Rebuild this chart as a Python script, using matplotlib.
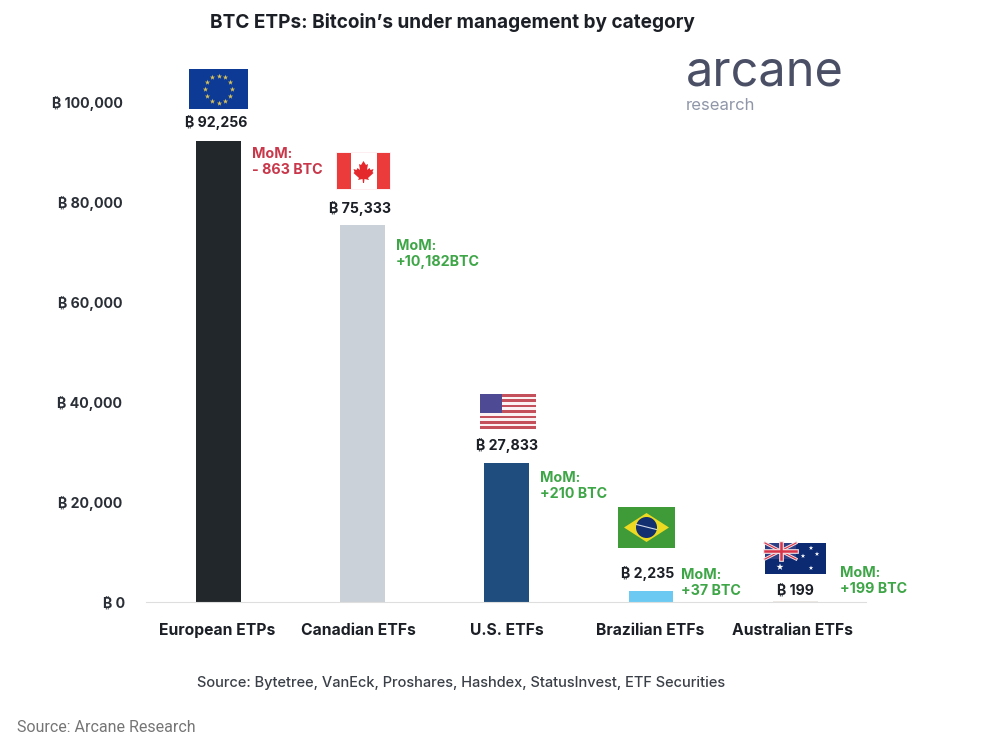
import numpy as np
import matplotlib
matplotlib.use('Agg')
import matplotlib.pyplot as plt
from matplotlib.patches import Rectangle, Polygon, Circle
from matplotlib.transforms import ScaledTranslation

plt.rcParams['font.family'] = ['Inter', 'DejaVu Sans']

# Data
categories = ['European ETPs', 'Canadian ETFs', 'U.S. ETFs', 'Brazilian ETFs', 'Australian ETFs']
holdings = [92256, 75333, 27833, 2235, 199]
value_labels = ['₿ 92,256', '₿ 75,333', '₿ 27,833', '₿ 2,235', '₿ 199']
mom_labels = ['MoM:\n- 863 BTC', 'MoM:\n+10,182BTC', 'MoM:\n+210 BTC', 'MoM:\n+37 BTC', 'MoM:\n+199 BTC']
yticks = [0, 20000, 40000, 60000, 80000, 100000]
ytick_labels = ['₿ 0', '₿ 20,000', '₿ 40,000', '₿ 60,000', '₿ 80,000', '₿ 100,000']

BAR_COLORS = ['#22272c', '#cbd1d8', '#1f4e7e', '#6ccaf2', '#ece8e4']
MOM_COLORS = ['#c9374a', '#3fa648', '#3fa648', '#3fa648', '#3fa648']
MOM_POS = [(252, 162), (396, 254), (540, 486), (681, 583), (840, 581)]
VALUE_OFFSET = [18, 17, 17, 17, 11]
VALUE_SHIFT = [-2, -2, 0, -3, 0]
LABEL_SHIFT = [-1, -4, 0, -1, -3]
W, H = 1007, 743


def eu_flag(ov, x, y, w, h):
    ov.add_patch(Rectangle((x, y), w, h, color='#0d3a94', lw=0))
    ang = np.deg2rad(np.arange(0, 360, 30))
    ov.scatter(x + w / 2 + 13.5 * np.cos(ang), y + h / 2 + 13.5 * np.sin(ang),
               s=16, marker='*', color='#d8c25a', lw=0, zorder=3)


def canada_flag(ov, x, y, w, h):
    ov.add_patch(Rectangle((x - 1, y - 1), w + 2, h + 2, color='#fdeff1', lw=0))
    ov.add_patch(Rectangle((x, y), w, h, color='#ffffff', lw=0))
    ov.add_patch(Rectangle((x, y), 13.5, h, color='#ec3b3b', lw=0))
    ov.add_patch(Rectangle((x + w - 13.5, y), 13.5, h, color='#ec3b3b', lw=0))
    cx, cy = x + w / 2, y + h / 2
    leaf = [(0, -10), (2.5, -6), (4.5, -7), (3.5, -1), (6, -3), (7, -1), (10, -2), (9, 1), (10, 2),
            (4.5, 7), (5.5, 9), (1, 8), (0.5, 12), (-0.5, 12), (-1, 8), (-5.5, 9), (-4.5, 7),
            (-10, 2), (-9, 1), (-10, -2), (-7, -1), (-6, -3), (-3.5, -1), (-4.5, -7), (-2.5, -6)]
    ov.add_patch(Polygon([(cx + a, cy + b) for a, b in leaf], color='#e5282c', lw=0, zorder=3))


def us_flag(ov, x, y, w, h):
    ov.add_patch(Rectangle((x, y), w, h, color='#fbf3f3', lw=0))
    sh = h / 13
    for i in range(0, 13, 2):
        ov.add_patch(Rectangle((x, y + i * sh), w, sh, color='#c4505c', lw=0))
    ov.add_patch(Rectangle((x, y), w * 0.4, sh * 7, color='#4f4a94', lw=0, zorder=3))


def brazil_flag(ov, x, y, w, h):
    ov.add_patch(Rectangle((x, y), w, h, color='#3f9a38', lw=0))
    ov.add_patch(Polygon([(x + 6, y + h / 2), (x + w / 2, y + 6), (x + w - 6, y + h / 2), (x + w / 2, y + h - 6)],
                         color='#ecd922', lw=0, zorder=2))
    ov.add_patch(Circle((x + w / 2, y + h / 2), 10.5, color='#12306f', lw=0, zorder=3))
    ov.plot([x + w / 2 - 10, x + w / 2 + 10], [y + h / 2 - 3, y + h / 2 + 2], color='#cfd8e6', lw=0.8, zorder=4)


def australia_flag(ov, x, y, w, h):
    ov.add_patch(Rectangle((x, y), w, h, color='#0c2a72', lw=0))
    cw, ch = 31, 16
    ov.add_patch(Rectangle((x, y), cw, ch, color='#2f3f85', lw=0, zorder=2))
    ov.plot([x, x + cw], [y, y + ch], color='#f4e4e6', lw=2.2, zorder=3)
    ov.plot([x, x + cw], [y + ch, y], color='#f4e4e6', lw=2.2, zorder=3)
    ov.plot([x, x + cw], [y, y + ch], color='#d8344a', lw=0.8, zorder=3)
    ov.plot([x, x + cw], [y + ch, y], color='#d8344a', lw=0.8, zorder=3)
    ov.plot([x + cw / 2] * 2, [y, y + ch], color='#f4e4e6', lw=3.4, zorder=4)
    ov.plot([x, x + cw], [y + ch / 2] * 2, color='#f4e4e6', lw=3.4, zorder=4)
    ov.plot([x + cw / 2] * 2, [y, y + ch], color='#d8344a', lw=1.8, zorder=5)
    ov.plot([x, x + cw], [y + ch / 2] * 2, color='#d8344a', lw=1.8, zorder=5)
    ov.scatter([x + 15, x + 38, x + 46, x + 52, x + 46], [y + 24, y + 13, y + 5, y + 11, y + 25],
               s=[28, 12, 12, 12, 12], marker='*', color='white', lw=0, zorder=5)


fig = plt.figure(figsize=(W / 100, H / 100), dpi=100)
ax = fig.add_axes([146 / W, (H - 602) / H, 720 / W, 552 / H])

x = np.arange(len(categories))
bars = ax.bar(x, holdings, width=45 / 144.4, color=BAR_COLORS)
ax.set_xlim(-0.5, 4.49)
ax.set_ylim(0, 110400)
ax.set_xticks(x, categories, fontsize=11.3, fontweight='bold', color='#1c2026')
ax.set_yticks(yticks, ytick_labels, fontsize=10.2, fontweight='bold', color='#2a2e36')
ax.tick_params(length=0)
ax.tick_params(axis='x', pad=15)
ax.tick_params(axis='y', pad=17)
for side in ['top', 'right', 'left']:
    ax.spines[side].set_visible(False)
ax.spines['bottom'].set_color('#dedede')
for lab, dx in zip(ax.get_xticklabels(), LABEL_SHIFT):
    lab.set_transform(lab.get_transform() + ScaledTranslation(dx / 100, 0, fig.dpi_scale_trans))
# the zero label sits a little further right in the original
zero_lab = ax.get_yticklabels()[0]
zero_lab.set_transform(zero_lab.get_transform() + ScaledTranslation(0.03, 0, fig.dpi_scale_trans))

for i, bar in enumerate(bars):
    ax.annotate(value_labels[i], (bar.get_x() + bar.get_width() / 2, holdings[i]),
                xytext=(VALUE_SHIFT[i] * 0.72, VALUE_OFFSET[i] * 0.72), textcoords='offset points',
                ha='center', va='center', fontsize=10.2, fontweight='bold', color='#1c2026')

# overlay in image pixels for flags, logo and notes
ov = fig.add_axes([0, 0, 1, 1], zorder=5)
ov.set_xlim(0, W)
ov.set_ylim(H, 0)
ov.axis('off')

eu_flag(ov, 189, 69, 59, 40)
canada_flag(ov, 337, 153, 53, 36)
us_flag(ov, 480, 394, 56, 35)
brazil_flag(ov, 618, 507, 57, 41)
australia_flag(ov, 765, 543, 61, 31)

for txt, col, (mx, my) in zip(mom_labels, MOM_COLORS, MOM_POS):
    ov.text(mx, my, txt, ha='left', va='center', fontsize=10.3, fontweight='bold',
            color=col, linespacing=1.2)

ov.text(452, 22, 'BTC ETPs: Bitcoin’s under management by category', ha='center', va='center',
        fontsize=13.7, fontweight='bold', color='#1c2026')
ov.text(686, 72, 'arcane', ha='left', va='center', fontsize=35, color='#4a4f66',
        family='Inter')
ov.text(686, 105, 'research', ha='left', va='center', fontsize=12, color='#8f96a8', family='Inter')
ov.text(461, 683, 'Source: Bytetree, VanEck, Proshares, Hashdex, StatusInvest, ETF Securities',
        ha='center', va='center', fontsize=10.5, fontweight='medium', color='#3b4048', family='Inter')
ov.text(17, 727, 'Source: Arcane Research', ha='left', va='center', fontsize=11.5,
        color='#757575', family='Roboto')

fig.savefig('out.png', dpi=100)
